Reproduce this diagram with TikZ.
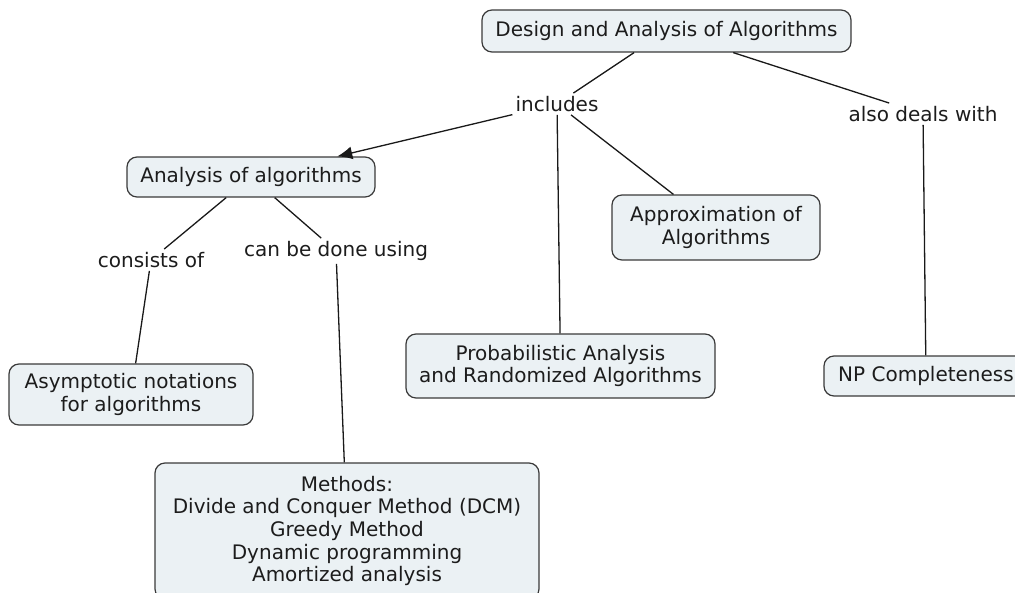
\documentclass[tikz,border=0pt]{standalone}
\usepackage{fontspec}
\setmainfont{DejaVu Sans}
\usetikzlibrary{arrows.meta}
\definecolor{boxfill}{HTML}{EBF1F4}
\definecolor{boxline}{HTML}{3A3A3A}
\definecolor{ink}{HTML}{1C1C1C}
\begin{document}
\begin{tikzpicture}[x=1pt,y=-1pt,
  concept/.style={draw=boxline, fill=boxfill, line width=1.2pt, rounded corners=10pt,
    align=center, text=ink, inner sep=0pt, font=\fontsize{20}{22.7}\selectfont},
  linkword/.style={text=ink, inner sep=3pt, font=\fontsize{20}{22.7}\selectfont},
  link/.style={draw=black!90, line width=1.3pt}]
\useasboundingbox (0,0) rectangle (1015,592);

% concepts
\node[concept, minimum width=369pt, minimum height=42pt] (top) at (666.5,31) {Design and Analysis of Algorithms};
\node[concept, minimum width=248pt, minimum height=40pt] (ana) at (251,177) {Analysis of algorithms};
\node[concept, minimum width=208pt, minimum height=65pt] (apx) at (716,227.5) {Approximation of\\Algorithms};
\node[concept, minimum width=309pt, minimum height=64pt] (prob) at (560.5,366) {Probabilistic Analysis\\and Randomized Algorithms};
\node[concept, minimum width=204pt, minimum height=40pt] (np) at (926,376) {NP Completeness};
\node[concept, minimum width=244pt, minimum height=61pt] (asym) at (131,394.5) {Asymptotic notations\\for algorithms};
\node[concept, minimum width=384pt, minimum height=136pt] (meth) at (347,531) {Methods:\\Divide and Conquer Method (DCM)\\Greedy Method\\Dynamic programming\\Amortized analysis};

% linking phrases
\node[linkword] (inc) at (557,104) {includes};
\node[linkword] (also) at (923,114) {also deals with};
\node[linkword] (cons) at (151,260) {consists of};
\node[linkword] (done) at (336,251) {can be done using};

% connectors
\draw[link] (top) -- (inc);
\draw[link] (top) -- (also);
\draw[link, -{Latex[length=15pt,width=13pt]}] (inc) -- (ana);
\draw[link] (inc) -- (prob);
\draw[link] (inc) -- (apx);
\draw[link] (also) -- (np);
\draw[link] (ana) -- (cons);
\draw[link] (cons) -- (asym);
\draw[link] (ana) -- (done);
\draw[link] (done) -- (meth);
\end{tikzpicture}
\end{document}
